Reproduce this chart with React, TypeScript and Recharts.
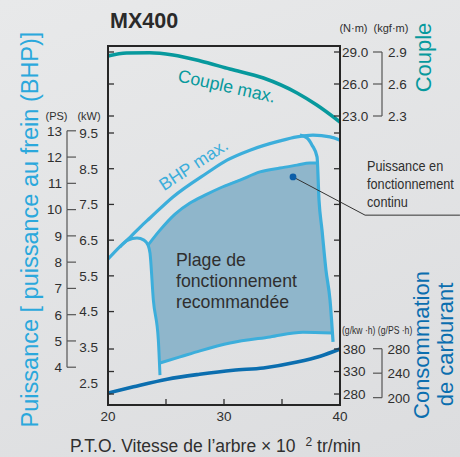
import {
  ComposedChart, Line, Area, XAxis, YAxis,
  ReferenceLine, ReferenceDot,
} from 'recharts';

// P.T.O. speed, x100 rpm
const xTicks = [20, 25, 30, 35, 40];
const xLabels = [20, 30, 40];

// power axes
const kwTicks = [9.5, 8.5, 7.5, 6.5, 5.5, 4.5, 3.5, 2.5];
const psTicks = [13, 12, 11, 10, 9, 8, 7, 6, 5, 4];
// torque axes
const nmTicks = [29, 26, 23];
const kgfTicks = [2.9, 2.6, 2.3];
// fuel consumption axes
const fuelKwhTicks = [380, 330, 280];
const fuelPshTicks = [280, 240, 200];

// curves: [rpm x100, value]
const torqueMax = [
  [20, 28.63], [21.6, 28.9], [23.6, 28.93], [25.6, 28.72], [27.9, 28.18],
  [30.5, 27.4], [33.4, 26.56], [36.3, 25.16], [38.0, 24.03], [40, 22.44],
]; // N·m
const bhpMax = [
  [20, 5.97], [21.03, 6.32], [21.9, 6.58], [22.76, 6.86], [23.62, 7.12],
  [25.6, 7.71], [28.53, 8.38], [30.26, 8.74], [32.24, 9.02], [34.83, 9.28],
  [36.29, 9.39], [37.67, 9.44], [39.14, 9.39], [40, 9.3],
]; // kW
const governor = [
  [36.55, 9.44], [37.16, 9.36], [37.59, 9.16], [38.02, 8.83], [38.19, 7.62],
  [38.45, 6.78], [38.79, 5.66], [39.14, 4.82], [39.4, 3.65],
]; // kW
const contPower = [
  [23.45, 6.36], [24.48, 6.78], [25.78, 7.23], [27.07, 7.54], [28.36, 7.76],
  [29.66, 7.96], [31.38, 8.18], [33.1, 8.41], [34.83, 8.52], [36.29, 8.6],
  [37.41, 8.66], [38.0, 8.66],
]; // kW
const rangeLeft = [
  [21.03, 6.31], [21.72, 6.5], [22.5, 6.56], [23.1, 6.5], [23.45, 6.36],
  [23.62, 6.14], [23.91, 4.82], [24.34, 3.7], [24.48, 2.72],
]; // kW
const rangeBottom = [
  [24.48, 3.06], [26.21, 3.23], [27.93, 3.4], [30.52, 3.62], [33.97, 3.79],
  [36.81, 3.92], [39.31, 3.9],
]; // kW
const fuelUse = [
  [20, 282], [22.2, 296], [25.1, 313], [27.9, 324], [30.8, 333],
  [33.4, 338], [36.3, 351], [38.3, 364], [40, 380],
]; // g/kW·h

// recommended operating zone, kW [low, high]
const zoneX = [23.45, 23.62, 23.91, 24.34, 24.48, 25.78, 27.07, 28.36, 30.52, 33.39, 35.95, 37.41, 38.02, 38.19, 38.45, 38.79, 39.14, 39.31];
const zoneLow = [6.36, 6.14, 4.82, 3.7, 3.06, 3.19, 3.31, 3.44, 3.62, 3.77, 3.9, 3.92, 3.92, 3.92, 3.92, 3.92, 3.92, 3.92];
const zoneHigh = [6.36, 6.45, 6.52, 6.72, 6.78, 7.23, 7.54, 7.76, 8.11, 8.46, 8.6, 8.66, 8.66, 7.62, 6.78, 5.66, 4.82, 3.92];

const contPoint = { x: 35.95, y: 8.27 };
const leader = [{ x: 35.95, y: 8.27 }, { x: 42.16, y: 7.2 }, { x: 50.34, y: 7.2 }];

const zoneData = zoneX.map((x, i) => ({ x, r: [zoneLow[i], zoneHigh[i]] }));
const pts = (a: number[][]) => a.map(([x, y]) => ({ x, y }));

// layout
const PLOT = { left: 108, right: 340, top: 46, bottom: 405 };
const PLOT_H = PLOT.bottom - PLOT.top;
const KW_PER_PS = 0.7355;
const KW_DOMAIN = [1.884, 11.936];
const PS_DOMAIN = KW_DOMAIN.map(v => v / KW_PER_PS);
const NM_DOMAIN = [-4.094, 29.5625];
const KGF_DOMAIN = NM_DOMAIN.map(v => v / 10);
const FUEL_DOMAIN = [255.6, 1053.3];
const FUEL_PS_DOMAIN = FUEL_DOMAIN.map(v => v * KW_PER_PS);

const INK = '#2f2f2f';
const LIGHT = '#3caedb';
const TEAL = '#07999d';
const DARK = '#0b6eaf';
const ZONE = '#8fb6cb';
const FONT = '"Liberation Sans", Arial, Helvetica, sans-serif';

const edgeTicks = (y: number) => (
  <>
    <line x1={PLOT.left} x2={PLOT.left + 6} y1={y} y2={y} stroke={INK} strokeWidth={1.3} />
    <line x1={PLOT.right - 6} x2={PLOT.right} y1={y} y2={y} stroke={INK} strokeWidth={1.3} />
  </>
);

// bracket-style side scale: tick + vertical run to the next tick
const bracket = (ticks: number[], domain: number[], v: number, y: number, bx: number, dir: number) => {
  const i = ticks.indexOf(v);
  const next = ticks[i + 1];
  const px = PLOT_H / (domain[1] - domain[0]);
  return (
    <>
      <line x1={bx} x2={bx + dir * 9} y1={y} y2={y} stroke="#555" strokeWidth={1.2} />
      {next !== undefined && (
        <line x1={bx} x2={bx} y1={y} y2={y + (v - next) * px} stroke="#555" strokeWidth={1.2} />
      )}
    </>
  );
};

const label = (x: number, y: number, txt: string, anchor: 'start' | 'end' | 'middle') => (
  <text x={x} y={y} dy="0.36em" textAnchor={anchor} fontSize={13.5} fill={INK} fontFamily={FONT}>{txt}</text>
);

const XTick = ({ x, payload }: any) => {
  const v = payload.value;
  return (
    <g>
      {v !== 20 && v !== 40 && (
        <line x1={x} x2={x} y1={PLOT.bottom} y2={PLOT.bottom - 6} stroke={INK} strokeWidth={1.3} />
      )}
      {xLabels.includes(v) && (
        <text x={x} y={PLOT.bottom + 16} textAnchor="middle" fontSize={13.5} fill={INK} fontFamily={FONT}>{v}</text>
      )}
    </g>
  );
};
const KwTick = ({ y, payload }: any) => (
  <g>{payload.value >= 4.5 && edgeTicks(y)}{label(98, y, payload.value.toFixed(1), 'end')}</g>
);
const PsTick = ({ y, payload }: any) => (
  <g>{bracket(psTicks, PS_DOMAIN, payload.value, y, 67, 1)}{label(62, y, String(payload.value), 'end')}</g>
);
const NmTick = ({ y, payload }: any) => (
  <g>{edgeTicks(y)}{label(342, y, payload.value.toFixed(1), 'start')}</g>
);
const KgfTick = ({ y, payload }: any) => (
  <g>{bracket(kgfTicks, KGF_DOMAIN, payload.value, y, 382, -1)}{label(388, y, payload.value.toFixed(1), 'start')}</g>
);
const FuelTick = ({ y, payload }: any) => (
  <g>{edgeTicks(y)}{label(343, y, String(payload.value), 'start')}</g>
);
const FuelPsTick = ({ y, payload }: any) => (
  <g>{bracket(fuelPshTicks, FUEL_PS_DOMAIN, payload.value, y, 382, -1)}{label(387.5, y, String(payload.value), 'start')}</g>
);

const yAxisCommon = {
  type: 'number' as const,
  width: 2,
  axisLine: false,
  tickLine: false,
  tickSize: 0,
  tickMargin: 0,
  interval: 0 as const,
  allowDataOverflow: true,
};

export default function App() {
  return (
    <div style={{
      position: 'absolute', left: 0, top: 0, width: 460, height: 457,
      background: 'linear-gradient(160deg, #e8e9ea 0%, #dcdddf 100%)',
      fontFamily: FONT,
    }}>
      <ComposedChart width={460} height={457} data={zoneData}
        margin={{ top: 46, bottom: 50, left: 104, right: 112 }}>
        <XAxis type="number" dataKey="x" domain={[20, 40]} ticks={xTicks} interval={0}
          height={2} axisLine={false} tickLine={false} tickSize={0} tickMargin={0}
          tick={XTick} allowDataOverflow />
        <YAxis yAxisId="kw" orientation="left" domain={KW_DOMAIN} ticks={kwTicks} tick={KwTick} {...yAxisCommon} />
        <YAxis yAxisId="ps" orientation="left" domain={PS_DOMAIN} ticks={psTicks} tick={PsTick} {...yAxisCommon} />
        <YAxis yAxisId="nm" orientation="right" domain={NM_DOMAIN} ticks={nmTicks} tick={NmTick} {...yAxisCommon} />
        <YAxis yAxisId="kgf" orientation="right" domain={KGF_DOMAIN} ticks={kgfTicks} tick={KgfTick} {...yAxisCommon} />
        <YAxis yAxisId="fuel" orientation="right" domain={FUEL_DOMAIN} ticks={fuelKwhTicks} tick={FuelTick} {...yAxisCommon} />
        <YAxis yAxisId="fuelps" orientation="right" domain={FUEL_PS_DOMAIN} ticks={fuelPshTicks} tick={FuelPsTick} {...yAxisCommon} />

        <Area yAxisId="kw" dataKey="r" type="linear" fill={ZONE} fillOpacity={1} stroke="none" isAnimationActive={false} />

        <Line yAxisId="kw" data={pts(rangeLeft)} dataKey="y" type="monotone" stroke={LIGHT} strokeWidth={3} dot={false} isAnimationActive={false} />
        <Line yAxisId="kw" data={pts(contPower)} dataKey="y" type="monotone" stroke={LIGHT} strokeWidth={3} dot={false} isAnimationActive={false} />
        <Line yAxisId="kw" data={pts(rangeBottom)} dataKey="y" type="monotone" stroke={LIGHT} strokeWidth={3} dot={false} isAnimationActive={false} />
        <Line yAxisId="kw" data={pts(bhpMax)} dataKey="y" type="monotone" stroke={LIGHT} strokeWidth={3.2} dot={false} isAnimationActive={false} />
        <Line yAxisId="kw" data={pts(governor)} dataKey="y" type="monotone" stroke={LIGHT} strokeWidth={3.2} dot={false} isAnimationActive={false} />
        <Line yAxisId="nm" data={pts(torqueMax)} dataKey="y" type="monotone" stroke={TEAL} strokeWidth={3.6} dot={false} isAnimationActive={false} />
        <Line yAxisId="fuel" data={pts(fuelUse)} dataKey="y" type="monotone" stroke={DARK} strokeWidth={3.6} dot={false} isAnimationActive={false} />

        <ReferenceLine yAxisId="kw" segment={[leader[0], leader[1]]} stroke="#333" strokeWidth={1} ifOverflow="visible" />
        <ReferenceLine yAxisId="kw" segment={[leader[1], leader[2]]} stroke="#333" strokeWidth={1} ifOverflow="visible" />
        <ReferenceDot yAxisId="kw" x={contPoint.x} y={contPoint.y} r={3.4} fill="#0b5ea8" stroke="none" ifOverflow="visible" />
      </ComposedChart>

      <svg width={460} height={457} style={{ position: 'absolute', left: 0, top: 0, pointerEvents: 'none' }}
        fontFamily={FONT}>
        <rect x={PLOT.left} y={PLOT.top} width={PLOT.right - PLOT.left} height={PLOT_H}
          fill="none" stroke="#262626" strokeWidth={2} />

        <text x={110} y={28} fontSize={21.5} fontWeight="bold" fill="#2a2a2a">MX400</text>

        <text x={38} y={229.5} transform="rotate(-90 38 229.5)" textAnchor="middle" fontSize={23.5} fill="#2ba8dc">
          Puissance [ puissance au frein (BHP)]
        </text>
        <text x={56.5} y={120} textAnchor="middle" fontSize={11} fill={INK}>(PS)</text>
        <text x={89} y={120} textAnchor="middle" fontSize={11} fill={INK}>(kW)</text>

        <text x={353.5} y={32} textAnchor="middle" fontSize={11} fill={INK}>(N·m)</text>
        <text x={391} y={32} textAnchor="middle" fontSize={11} fill={INK}>(kgf·m)</text>
        <text x={431} y={57.5} transform="rotate(-90 431 57.5)" textAnchor="middle" fontSize={22} fill={TEAL}>Couple</text>

        <text x={225.5} y={92} transform="rotate(12.6 225.5 92)" textAnchor="middle" fontSize={17.7} fill={TEAL}>Couple max.</text>
        <text x={196.7} y={169.7} transform="rotate(-33.3 196.7 169.7)" textAnchor="middle" fontSize={17.5} fill={LIGHT}>BHP max.</text>

        <text x={176} fontSize={17.7} fill={INK}>
          <tspan x={176} y={266}>Plage de</tspan>
          <tspan x={176} y={287}>fonctionnement</tspan>
          <tspan x={176} y={308}>recommandée</tspan>
        </text>

        <g transform="translate(367 0) scale(0.82 1)">
          <text fontSize={15.5} fill={INK}>
            <tspan x={0} y={171}>Puissance en</tspan>
            <tspan x={0} y={189}>fonctionnement</tspan>
            <tspan x={0} y={207}>continu</tspan>
          </text>
        </g>

        <g transform="translate(342 0) scale(0.82 1)">
          <text x={0} y={334} fontSize={10.5} fill={INK}>(g/kw ·h) (g/PS ·h)</text>
        </g>
        <text x={429} y={345} transform="rotate(-90 429 345)" textAnchor="middle" fontSize={22} fill={DARK}>Consommation</text>
        <text x={453} y={344.5} transform="rotate(-90 453 344.5)" textAnchor="middle" fontSize={22} fill={DARK}>de carburant</text>

        <text x={70} y={452} fontSize={17.5} fill={INK}>
          P.T.O. Vitesse de l’arbre × 10<tspan fontSize={12} dx={10} dy={-6}>2</tspan><tspan dy={6}> tr/min</tspan>
        </text>
      </svg>
    </div>
  );
}
